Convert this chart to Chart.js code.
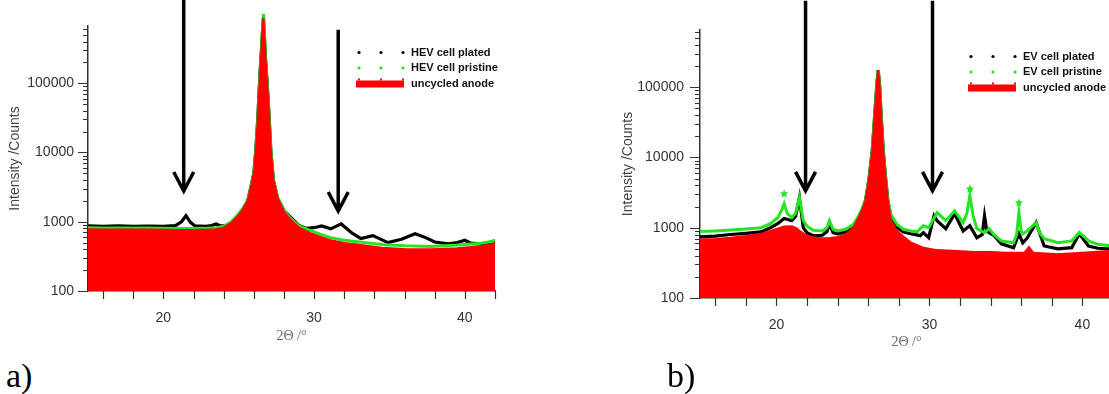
<!DOCTYPE html>
<html>
<head>
<meta charset="utf-8">
<script src="https://cdn.jsdelivr.net/npm/chart.js@4.4.1/dist/chart.umd.min.js"></script>
<style>
  html, body { margin: 0; padding: 0; background: #fff; }
  body { width: 1109px; height: 394px; overflow: hidden; position: relative; }
  .panel { position: absolute; top: 0; }
  .tag { position: absolute; font-family: 'Liberation Serif', 'Times New Roman', serif; font-size: 34px; line-height: 34px; color: #000; }
</style>
</head>
<body>
<div class="panel" style="left:0;width:520px;height:350px"><canvas id="chartA" width="520" height="350"></canvas></div>
<div class="panel" style="left:600px;width:532px;height:360px"><canvas id="chartB" width="532" height="360"></canvas></div>
<div class="tag" style="left:6px;top:359px">a)</div>
<div class="tag" style="left:667px;top:359px">b)</div>

<script>
// axis ticks
const xTicks = [16, 18, 20, 22, 24, 26, 28, 30, 32, 34, 36, 38, 40, 42];
const xLabelValues = [20, 30, 40];
const yDecades = [100, 1000, 10000, 100000];
const yMinorSteps = [1, 2, 3, 4, 5, 6, 7, 8, 9];

// a) HEV cell
const hevNames = ['HEV cell plated', 'HEV cell pristine', 'uncycled anode'];
const hevPlatedX = [15, 16, 17, 18, 19, 20, 20.8, 21.2, 21.5, 21.8, 22.1, 22.8, 23.2, 23.5, 23.8, 24.2, 24.5, 25, 25.3, 25.6, 25.85, 26.0, 26.13, 26.25, 26.42, 26.52, 26.6, 26.64, 26.68, 26.78, 26.9, 27.0, 27.13, 27.3, 27.58, 28.0, 28.47, 29.0, 29.5, 30.0, 30.5, 31.1, 31.8, 32.5, 33.1, 33.9, 34.9, 35.8, 36.7, 37.4, 38.0, 38.9, 39.5, 40.0, 40.4, 41.1, 41.6, 42];
const hevPlatedY = [870, 860, 870, 860, 865, 860, 880, 1000, 1220, 980, 870, 860, 880, 930, 870, 880, 960, 1250, 1550, 2020, 3500, 5000, 10700, 28000, 150000, 350000, 700000, 880000, 600000, 220000, 90000, 38000, 10700, 4000, 2200, 1450, 1150, 880, 800, 820, 870, 790, 930, 690, 570, 630, 500, 560, 670, 590, 510, 480, 500, 540, 490, 480, 500, 530];
const hevPristineX = [15, 16, 17, 18, 19, 20, 21, 22, 23, 23.5, 24, 24.5, 25, 25.3, 25.6, 25.85, 26.0, 26.13, 26.25, 26.42, 26.52, 26.6, 26.64, 26.68, 26.78, 26.9, 27.0, 27.13, 27.3, 27.58, 28.0, 28.47, 29.0, 29.8, 30.5, 31.1, 32, 33, 34.5, 36, 37.8, 39.5, 41.1, 42];
const hevPristineY = [820, 815, 815, 810, 810, 805, 800, 800, 810, 820, 860, 1000, 1300, 1600, 2020, 3500, 5000, 10700, 28000, 150000, 350000, 760000, 1000000, 640000, 220000, 90000, 38000, 10700, 4000, 2250, 1450, 1100, 870, 740, 650, 590, 540, 510, 470, 450, 440, 460, 490, 530];
const hevAnodeX = [15, 16, 17, 18, 19, 20, 21, 22, 23, 23.5, 24, 24.5, 25, 25.3, 25.6, 25.85, 26.0, 26.13, 26.25, 26.42, 26.52, 26.6, 26.64, 26.68, 26.78, 26.9, 27.0, 27.13, 27.3, 27.58, 28.0, 28.47, 29.0, 29.8, 30.5, 31.1, 32, 33, 34.5, 36, 37.8, 39.5, 41.1, 42];
const hevAnodeY = [780, 775, 775, 770, 770, 765, 760, 760, 770, 780, 820, 960, 1250, 1550, 2020, 3500, 5000, 10700, 28000, 150000, 350000, 700000, 880000, 600000, 220000, 90000, 38000, 10700, 4000, 2200, 1400, 1050, 820, 680, 600, 540, 495, 465, 420, 405, 400, 415, 445, 490];
const hevArrowX = [21.35, 31.6];
const hevArrowTop = [1600000, 590000];
const hevArrowTip = [2690, 1380];

// b) EV cell
const evNames = ['EV cell plated', 'EV cell pristine', 'uncycled anode'];
const evPlatedX = [15, 16, 17, 18, 19, 19.6, 20.1, 20.5, 20.8, 21.0, 21.25, 21.5, 21.75, 22.0, 22.4, 23.0, 23.3, 23.46, 23.7, 24.0, 24.5, 25.0, 25.36, 25.6, 25.82, 26.05, 26.26, 26.45, 26.56, 26.65, 26.74, 26.82, 26.98, 27.12, 27.28, 27.5, 27.9, 28.3, 28.8, 29.4, 29.6, 29.95, 30.3, 30.5, 31.07, 31.65, 32.2, 32.64, 33.1, 33.45, 33.6, 33.75, 33.9, 34.2, 34.7, 35.5, 35.85, 36.1, 36.4, 36.97, 37.5, 38.4, 39.3, 39.8, 40.4, 41.0, 41.7, 42.0];
const evPlatedY = [740, 760, 800, 830, 870, 1000, 1150, 1350, 1300, 1260, 1450, 2690, 1000, 850, 770, 780, 880, 1140, 850, 820, 870, 1000, 1390, 1800, 2440, 5000, 12600, 50000, 110000, 175000, 110000, 50000, 12600, 5500, 2440, 1400, 1000, 870, 820, 770, 850, 720, 1480, 1260, 970, 1580, 900, 1070, 720, 800, 1480, 900, 850, 780, 590, 520, 820, 610, 720, 1180, 550, 500, 520, 820, 550, 510, 500, 500];
const evPristineX = [15, 16, 17, 18, 19, 19.6, 20.1, 20.35, 20.5, 20.7, 21.0, 21.25, 21.5, 21.75, 22.0, 22.4, 23.0, 23.3, 23.46, 23.7, 24.0, 24.5, 25.0, 25.36, 25.6, 25.82, 26.05, 26.26, 26.45, 26.56, 26.65, 26.74, 26.82, 26.98, 27.12, 27.28, 27.5, 27.9, 28.3, 28.8, 29.2, 29.6, 29.95, 30.5, 31.07, 31.65, 32.2, 32.45, 32.64, 32.85, 33.1, 33.6, 33.9, 34.2, 34.7, 35.5, 35.7, 35.85, 36.0, 36.1, 36.4, 36.97, 37.2, 37.5, 38.4, 39.3, 39.8, 40.1, 40.4, 41.0, 41.7, 42.0];
const evPristineY = [880, 900, 930, 960, 1000, 1140, 1400, 1800, 2200, 1600, 1390, 1600, 2690, 1260, 1050, 920, 900, 1000, 1260, 950, 900, 950, 1100, 1450, 1850, 2440, 5000, 12600, 50000, 110000, 175000, 110000, 50000, 12600, 5500, 2440, 1500, 1100, 950, 900, 880, 1070, 1000, 1640, 1260, 1740, 1180, 1600, 2870, 1500, 970, 850, 970, 800, 650, 610, 800, 1640, 900, 820, 900, 1180, 850, 700, 610, 650, 850, 750, 650, 580, 560, 560];
const evAnodeX = [15, 16, 17, 18, 19, 19.6, 20.1, 20.5, 21.0, 21.3, 21.6, 22.0, 22.5, 23.0, 23.5, 24.0, 24.5, 25.0, 25.36, 25.6, 25.82, 26.05, 26.26, 26.45, 26.56, 26.65, 26.74, 26.82, 26.98, 27.12, 27.28, 27.5, 27.9, 28.3, 28.8, 29.6, 30.5, 31.8, 33.0, 34.0, 35.0, 36.2, 36.5, 36.8, 38.4, 40.0, 41.0, 42.0];
const evAnodeY = [680, 690, 720, 760, 820, 900, 980, 1040, 1050, 990, 870, 770, 720, 710, 715, 740, 800, 980, 1390, 1800, 2440, 5000, 12600, 50000, 110000, 175000, 110000, 50000, 12600, 5500, 2440, 1250, 900, 750, 610, 520, 480, 465, 450, 450, 440, 440, 530, 440, 420, 440, 455, 470];
const evArrowX = [21.9, 30.2];
const evArrowTop = [1700000, 1700000];
const evArrowTip = [3240, 3240];
const evStarX = [20.5, 32.65, 35.85];
const evStarY = [3020, 3540, 2250];

const GREEN = '#22e622';
const AXIS = '#333';

function pairs(xs, ys) {
    return xs.map((x, i) => ({ x: x, y: ys[i] }));
}

function drawStar(ctx, cx, cy, r) {
    ctx.beginPath();
    for (let i = 0; i < 10; i++) {
        const rad = i % 2 === 0 ? r : r * 0.45;
        const a = -Math.PI / 2 + i * Math.PI / 5;
        const px = cx + rad * Math.cos(a), py = cy + rad * Math.sin(a);
        if (i === 0) ctx.moveTo(px, py); else ctx.lineTo(px, py);
    }
    ctx.closePath();
    ctx.fill();
}

// tick marks, arrows, stars and legend drawn over the chart
function decor(p) {
    return {
        id: 'decor',
        afterDraw(chart) {
            const ctx = chart.ctx;
            const xs = chart.scales.x, ys = chart.scales.y;
            const area = chart.chartArea;
            ctx.save();

            ctx.strokeStyle = AXIS;
            ctx.lineWidth = 1.2;
            ctx.beginPath();
            xs.ticks.forEach(t => {
                const px = Math.round(xs.getPixelForValue(t.value)) + 0.5;
                ctx.moveTo(px, area.bottom);
                ctx.lineTo(px, area.bottom + 8);
            });
            ys.ticks.forEach(t => {
                const py = Math.round(ys.getPixelForValue(t.value)) + 0.5;
                const len = yDecades.includes(t.value) ? 10 : 5;
                ctx.moveTo(area.left - len, py);
                ctx.lineTo(area.left, py);
            });
            ctx.stroke();

            // arrows
            ctx.strokeStyle = '#000';
            ctx.lineWidth = 3.5;
            ctx.lineJoin = 'miter';
            p.arrowX.forEach((ax, i) => {
                const px = xs.getPixelForValue(ax);
                const top = ys.getPixelForValue(p.arrowTop[i]);
                const tip = ys.getPixelForValue(p.arrowTip[i]);
                ctx.beginPath();
                ctx.moveTo(px, top);
                ctx.lineTo(px, tip - 2);
                ctx.moveTo(px - 10, tip - 20);
                ctx.lineTo(px, tip - 1);
                ctx.lineTo(px + 10, tip - 20);
                ctx.stroke();
            });

            // stars over pristine peaks
            ctx.fillStyle = GREEN;
            (p.starX || []).forEach((sx, i) => {
                drawStar(ctx, xs.getPixelForValue(sx), ys.getPixelForValue(p.starY[i]), 4.5);
            });

            // legend
            const lx = area.left + 271;
            const dots = [lx, lx + 22, lx + 44];
            const colors = ['#000', GREEN];
            ctx.font = 'bold 11px "Liberation Sans", Arial, sans-serif';
            ctx.textBaseline = 'middle';
            p.names.forEach((name, i) => {
                const ry = area.top + 26.5 + 15.5 * i;
                if (i < 2) {
                    ctx.fillStyle = colors[i];
                    dots.forEach(dx => { ctx.beginPath(); ctx.arc(dx, ry, 1.6, 0, Math.PI * 2); ctx.fill(); });
                } else {
                    ctx.fillStyle = '#ff0000';
                    ctx.fillRect(lx - 3, ry - 3, 48, 7);
                    dots.forEach(dx => ctx.fillRect(dx - 1, ry - 5, 2, 2));
                }
                ctx.fillStyle = '#111';
                ctx.fillText(name, lx + 52, ry);
            });
            ctx.restore();
        }
    };
}

function buildChart(id, p) {
    const yTicks = [];
    yDecades.forEach(d => yMinorSteps.forEach(m => { if (d * m <= p.yMax) yTicks.push(d * m); }));

    new Chart(document.getElementById(id), {
        type: 'line',
        data: {
            datasets: [
                { label: p.names[0], data: pairs(p.platedX, p.platedY), borderColor: '#000', borderWidth: 3.2, pointRadius: 0, order: 3, clip: false },
                { label: p.names[1], data: pairs(p.pristineX, p.pristineY), borderColor: GREEN, borderWidth: 3, pointRadius: 0, order: 2, clip: false },
                { label: p.names[2], data: pairs(p.anodeX, p.anodeY), borderColor: '#ff0000', backgroundColor: '#ff0000', borderWidth: 2, pointRadius: 0, fill: 'start', order: 1, clip: false }
            ]
        },
        options: {
            responsive: false,
            animation: false,
            devicePixelRatio: 1,
            layout: { padding: { top: p.padTop, right: p.padRight, left: 0, bottom: 0 } },
            plugins: { legend: { display: false }, tooltip: { enabled: false } },
            scales: {
                x: {
                    type: 'linear', min: 15, max: p.xMax,
                    afterBuildTicks: s => { s.ticks = xTicks.map(v => ({ value: v })); },
                    afterFit: s => { s.height = p.xAxisHeight; },
                    grid: { display: false, drawTicks: false },
                    border: { display: true, color: AXIS, width: 1.5 },
                    ticks: {
                        autoSkip: false, maxRotation: 0, padding: 19, color: '#333',
                        font: { family: '"Liberation Sans", Arial, sans-serif', size: 14 },
                        callback: v => xLabelValues.includes(v) ? String(v) : ''
                    },
                    title: {
                        display: true, text: '2Θ /°', color: '#666',
                        font: { family: '"Liberation Serif", "Times New Roman", serif', size: 14 },
                        padding: { top: 0, bottom: p.xTitlePad }
                    }
                },
                y: {
                    type: 'logarithmic', min: 100, max: p.yMax,
                    afterBuildTicks: s => { s.ticks = yTicks.map(v => ({ value: v })); },
                    afterFit: s => { s.width = p.yAxisWidth; },
                    grid: { display: false, drawTicks: false },
                    border: { display: true, color: AXIS, width: 1.5 },
                    ticks: {
                        autoSkip: false, padding: p.yLabelGap, color: '#333',
                        font: { family: '"Liberation Sans", Arial, sans-serif', size: 14 },
                        callback: v => yDecades.includes(v) ? String(v) : ''
                    },
                    title: {
                        display: true, text: 'Intensity /Counts', color: '#444',
                        font: { family: '"Liberation Sans", Arial, sans-serif', size: 14 },
                        padding: { top: p.yTitlePad, bottom: 0 }
                    }
                }
            }
        },
        plugins: [decor(p)]
    });
}

buildChart('chartA', {
    names: hevNames,
    platedX: hevPlatedX, platedY: hevPlatedY,
    pristineX: hevPristineX, pristineY: hevPristineY,
    anodeX: hevAnodeX, anodeY: hevAnodeY,
    arrowX: hevArrowX, arrowTop: hevArrowTop, arrowTip: hevArrowTip,
    xMax: 42, yMax: 670000,
    padTop: 26, padRight: 25, yAxisWidth: 88, xAxisHeight: 59,
    yLabelGap: 14, yTitlePad: 7, xTitlePad: 5
});

buildChart('chartB', {
    names: evNames,
    platedX: evPlatedX, platedY: evPlatedY,
    pristineX: evPristineX, pristineY: evPristineY,
    anodeX: evAnodeX, anodeY: evAnodeY,
    arrowX: evArrowX, arrowTop: evArrowTop, arrowTip: evArrowTip,
    starX: evStarX, starY: evStarY,
    xMax: 42, yMax: 650000,
    padTop: 30, padRight: 0, yAxisWidth: 100, xAxisHeight: 62,
    yLabelGap: 16, yTitlePad: 20, xTitlePad: 9
});
</script>
</body>
</html>
